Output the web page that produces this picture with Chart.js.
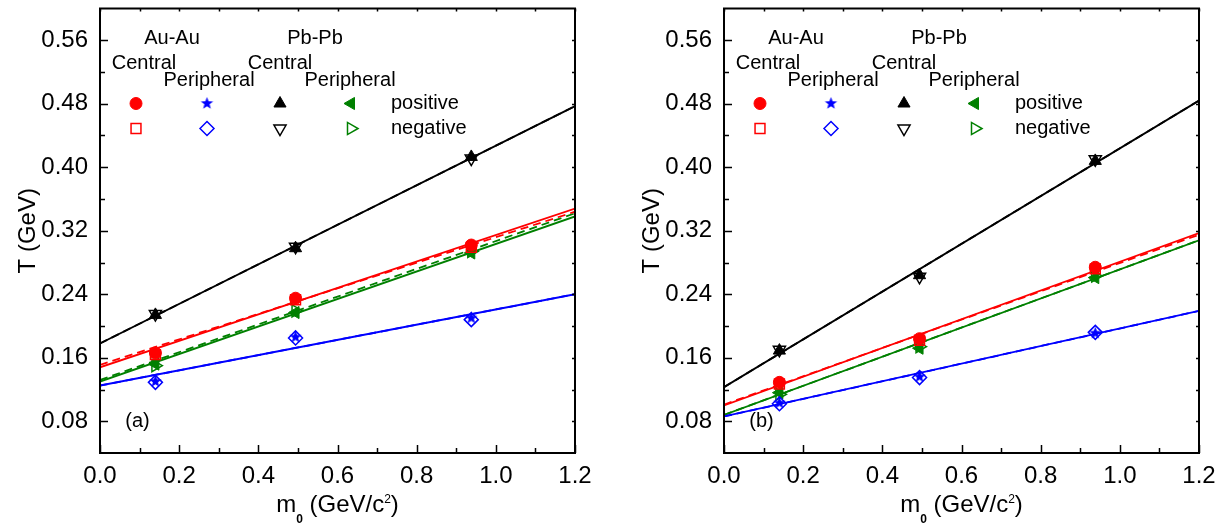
<!DOCTYPE html>
<html>
<head>
<meta charset="utf-8">
<script src="https://cdn.jsdelivr.net/npm/chart.js@4/dist/chart.umd.min.js"></script>
<style>
  html, body { margin: 0; padding: 0; background: #fff; }
  #wrap { position: relative; width: 1223px; height: 525px; }
  #panel-a { position: absolute; left: 0; top: 0; }
  #panel-b { position: absolute; left: 624px; top: 0; }
</style>
</head>
<body>
<div id="wrap">
  <canvas id="panel-a" width="612" height="525"></canvas>
  <canvas id="panel-b" width="599" height="525"></canvas>
</div>
<script>
// rest masses of pi, K, p (GeV/c^2)
const mass = [0.140, 0.494, 0.938];
// fit lines run across the full x range
const fitEnds = [0, 1.2];
const xTickValues = [0, 0.2, 0.4, 0.6, 0.8, 1.0, 1.2];
const yTickValues = [0.08, 0.16, 0.24, 0.32, 0.40, 0.48, 0.56];

// panel (a): T (GeV) per particle
const aAuCentralPos = [0.166, 0.235, 0.302];
const aAuCentralNeg = [0.164, 0.233, 0.299];
const aAuPeriphPos = [0.130, 0.186, 0.210];
const aAuPeriphNeg = [0.129, 0.185, 0.208];
const aPbCentralPos = [0.214, 0.298, 0.413];
const aPbCentralNeg = [0.215, 0.300, 0.411];
const aPbPeriphPos = [0.152, 0.217, 0.292];
const aPbPeriphNeg = [0.150, 0.219, 0.294];
// panel (a): fitted lines, T at m0 = 0 and m0 = 1.2
const aFitAuCentralPos = [0.148, 0.348];
const aFitAuCentralNeg = [0.151, 0.344];
const aFitAuPeriphPos = [0.125, 0.240];
const aFitAuPeriphNeg = [0.125, 0.240];
const aFitPbCentralPos = [0.178, 0.477];
const aFitPbCentralNeg = [0.178, 0.477];
const aFitPbPeriphPos = [0.130, 0.338];
const aFitPbPeriphNeg = [0.132, 0.342];

// panel (b)
const bAuCentralPos = [0.129, 0.184, 0.274];
const bAuCentralNeg = [0.127, 0.182, 0.272];
const bAuPeriphPos = [0.103, 0.136, 0.191];
const bAuPeriphNeg = [0.102, 0.135, 0.192];
const bPbCentralPos = [0.169, 0.264, 0.408];
const bPbCentralNeg = [0.170, 0.262, 0.410];
const bPbPeriphPos = [0.116, 0.172, 0.261];
const bPbPeriphNeg = [0.114, 0.174, 0.263];
const bFitAuCentralPos = [0.100, 0.317];
const bFitAuCentralNeg = [0.101, 0.315];
const bFitAuPeriphPos = [0.086, 0.219];
const bFitAuPeriphNeg = [0.086, 0.219];
const bFitPbCentralPos = [0.123, 0.484];
const bFitPbCentralNeg = [0.123, 0.484];
const bFitPbPeriphPos = [0.088, 0.308];
const bFitPbPeriphNeg = [0.088, 0.308];

const FONT = "'Liberation Sans', Arial, Helvetica, sans-serif";
const RED = '#ff0000', BLUE = '#0000ff', BLACK = '#000000', GREEN = '#008000';
const NONE = 'rgba(0,0,0,0)';

function starImage(color, r) {
  const c = document.createElement('canvas');
  const s = Math.ceil(2 * r + 2);
  c.width = c.height = s;
  const g = c.getContext('2d');
  g.fillStyle = color;
  g.beginPath();
  for (let i = 0; i < 10; i++) {
    const rr = i % 2 ? r * 0.42 : r;
    const a = -Math.PI / 2 + i * Math.PI / 5;
    g.lineTo(s / 2 + rr * Math.cos(a), s / 2 + rr * Math.sin(a));
  }
  g.closePath();
  g.fill();
  return c;
}

const marks = {
  auCentralPos: { color: RED, fill: RED, pointStyle: 'circle', rotation: 0, radius: 6, borderWidth: 1 },
  auCentralNeg: { color: RED, fill: NONE, pointStyle: 'rect', rotation: 0, radius: 7, borderWidth: 1.5 },
  auPeriphPos: { color: BLUE, fill: BLUE, pointStyle: starImage(BLUE, 6.5), rotation: 0, radius: 7, borderWidth: 1 },
  auPeriphNeg: { color: BLUE, fill: NONE, pointStyle: 'rectRot', rotation: 0, radius: 7, borderWidth: 1.5 },
  pbCentralPos: { color: BLACK, fill: BLACK, pointStyle: 'triangle', rotation: 0, radius: 7, borderWidth: 1 },
  pbCentralNeg: { color: BLACK, fill: NONE, pointStyle: 'triangle', rotation: 180, radius: 7, borderWidth: 1.5 },
  pbPeriphPos: { color: GREEN, fill: GREEN, pointStyle: 'triangle', rotation: -90, radius: 7, borderWidth: 1 },
  pbPeriphNeg: { color: GREEN, fill: NONE, pointStyle: 'triangle', rotation: 90, radius: 7, borderWidth: 1.5 }
};

function pointSet(label, values, m) {
  return {
    label, order: 1, showLine: false,
    data: mass.map((x, i) => ({ x, y: values[i] })),
    pointStyle: m.pointStyle, pointRotation: m.rotation, pointRadius: m.radius,
    pointBorderWidth: m.borderWidth, borderColor: m.color, backgroundColor: m.fill
  };
}

function fitSet(label, ends, color, dashed) {
  return {
    label, order: 2, showLine: true, pointRadius: 0,
    data: fitEnds.map((x, i) => ({ x, y: ends[i] })),
    borderColor: color, borderWidth: 1.8, borderDash: dashed ? [8, 5] : [],
    backgroundColor: NONE, fill: false
  };
}

const legendHeads = [
  { text: 'Au-Au', dx: 72, dy: 35 }, { text: 'Pb-Pb', dx: 215, dy: 35 },
  { text: 'Central', dx: 44, dy: 60 }, { text: 'Peripheral', dx: 109, dy: 77 },
  { text: 'Central', dx: 180, dy: 60 }, { text: 'Peripheral', dx: 250, dy: 77 }
];
const legendCols = [36, 107, 180, 251];
const legendRows = [
  { text: 'positive', dy: 95, keys: ['auCentralPos', 'auPeriphPos', 'pbCentralPos', 'pbPeriphPos'] },
  { text: 'negative', dy: 120, keys: ['auCentralNeg', 'auPeriphNeg', 'pbCentralNeg', 'pbPeriphNeg'] }
];

function drawMark(ctx, m, x, y) {
  ctx.save();
  ctx.fillStyle = m.fill;
  ctx.strokeStyle = m.color;
  ctx.lineWidth = m.borderWidth;
  Chart.helpers.drawPoint(ctx, { pointStyle: m.pointStyle, rotation: m.rotation, radius: m.radius, borderWidth: m.borderWidth }, x, y);
  ctx.restore();
}

// box frame, inward ticks, axis titles, legend block and panel tag
const decor = {
  id: 'decor',
  afterDraw(chart, args, opts) {
    const { ctx, chartArea: a, scales: { x: xs, y: ys } } = chart;
    ctx.save();
    ctx.strokeStyle = '#000';
    ctx.lineWidth = 2;
    ctx.strokeRect(a.left, a.top, a.right - a.left, a.bottom - a.top);

    ctx.lineWidth = 1.5;
    ctx.beginPath();
    xTickValues.forEach((v, i) => {
      const px = Math.round(xs.getPixelForValue(v)) + 0.5;
      ctx.moveTo(px, a.bottom); ctx.lineTo(px, a.bottom - 8);
      ctx.moveTo(px, a.top); ctx.lineTo(px, a.top + 3);
      if (i < xTickValues.length - 1) {
        const mx = Math.round(xs.getPixelForValue(v + 0.1)) + 0.5;
        ctx.moveTo(mx, a.bottom); ctx.lineTo(mx, a.bottom - 5);
        ctx.moveTo(mx, a.top); ctx.lineTo(mx, a.top + 3);
      }
    });
    yTickValues.forEach(v => {
      const py = Math.round(ys.getPixelForValue(v)) + 0.5;
      ctx.moveTo(a.left, py); ctx.lineTo(a.left + 8, py);
      ctx.moveTo(a.right, py); ctx.lineTo(a.right - 3, py);
      [v - 0.04, v + 0.04].forEach(m => {
        if (m <= ys.min + 1e-9 || m >= ys.max - 1e-9) return;
        const my = Math.round(ys.getPixelForValue(m)) + 0.5;
        ctx.moveTo(a.left, my); ctx.lineTo(a.left + 5, my);
        ctx.moveTo(a.right, my); ctx.lineTo(a.right - 3, my);
      });
    });
    ctx.stroke();

    ctx.fillStyle = '#000';
    // y title
    ctx.save();
    ctx.font = `24px ${FONT}`;
    ctx.translate(35, (a.top + a.bottom) / 2);
    ctx.rotate(-Math.PI / 2);
    ctx.textAlign = 'center';
    ctx.textBaseline = 'alphabetic';
    ctx.fillText('T (GeV)', 0, 0);
    ctx.restore();

    // x title with subscript and superscript
    const parts = [
      { t: 'm', f: `24px ${FONT}`, dy: 0 },
      { t: '0', f: `bold 12px ${FONT}`, dy: 11 },
      { t: ' (GeV/c', f: `24px ${FONT}`, dy: 0 },
      { t: '2', f: `12px ${FONT}`, dy: -9 },
      { t: ')', f: `24px ${FONT}`, dy: 0 }
    ];
    ctx.textAlign = 'left';
    ctx.textBaseline = 'alphabetic';
    let total = 0;
    parts.forEach(p => { ctx.font = p.f; p.w = ctx.measureText(p.t).width; total += p.w; });
    let tx = (a.left + a.right) / 2 - total / 2;
    parts.forEach(p => { ctx.font = p.f; ctx.fillText(p.t, tx, 512 + p.dy); tx += p.w; });

    // legend block
    ctx.font = `20px ${FONT}`;
    ctx.textAlign = 'center';
    legendHeads.forEach(h => ctx.fillText(h.text, a.left + h.dx, a.top + h.dy));
    legendRows.forEach(row => {
      row.keys.forEach((k, i) => drawMark(ctx, marks[k], a.left + legendCols[i], a.top + row.dy));
      ctx.textAlign = 'left';
      ctx.textBaseline = 'middle';
      ctx.fillText(row.text, a.left + 291, a.top + row.dy);
      ctx.textAlign = 'center';
      ctx.textBaseline = 'alphabetic';
    });

    // panel tag
    ctx.textBaseline = 'middle';
    ctx.fillText(opts.tag, a.left + 37.5, a.top + 413);
    ctx.restore();
  }
};

function makePanel(id, tag, rightPad, pts, fits) {
  const datasets = [
    pointSet('Au-Au central +', pts[0], marks.auCentralPos),
    pointSet('Au-Au central -', pts[1], marks.auCentralNeg),
    pointSet('Au-Au peripheral +', pts[2], marks.auPeriphPos),
    pointSet('Au-Au peripheral -', pts[3], marks.auPeriphNeg),
    pointSet('Pb-Pb central +', pts[4], marks.pbCentralPos),
    pointSet('Pb-Pb central -', pts[5], marks.pbCentralNeg),
    pointSet('Pb-Pb peripheral +', pts[6], marks.pbPeriphPos),
    pointSet('Pb-Pb peripheral -', pts[7], marks.pbPeriphNeg),
    fitSet('fit Au-Au central +', fits[0], RED, false),
    fitSet('fit Au-Au central -', fits[1], RED, true),
    fitSet('fit Au-Au peripheral +', fits[2], BLUE, false),
    fitSet('fit Au-Au peripheral -', fits[3], BLUE, true),
    fitSet('fit Pb-Pb central +', fits[4], BLACK, false),
    fitSet('fit Pb-Pb central -', fits[5], BLACK, true),
    fitSet('fit Pb-Pb peripheral +', fits[6], GREEN, false),
    fitSet('fit Pb-Pb peripheral -', fits[7], GREEN, true)
  ];
  const tickFont = { family: FONT, size: 24 };
  return new Chart(document.getElementById(id), {
    type: 'scatter',
    data: { datasets },
    options: {
      responsive: false, animation: false, devicePixelRatio: 1,
      layout: { padding: { top: 7, right: rightPad, left: 0, bottom: 0 } },
      plugins: { legend: { display: false }, tooltip: { enabled: false }, decor: { tag } },
      scales: {
        x: {
          type: 'linear', min: 0, max: 1.2,
          afterBuildTicks: s => { s.ticks = xTickValues.map(value => ({ value })); },
          afterFit: s => { s.height = 72; s.paddingLeft = 0; s.paddingRight = 0; },
          ticks: { callback: v => Number(v).toFixed(1), font: tickFont, color: '#000', padding: 9, maxRotation: 0, autoSkip: false },
          grid: { display: false, drawTicks: false }, border: { display: false }
        },
        y: {
          type: 'linear', min: 0.04, max: 0.60,
          afterBuildTicks: s => { s.ticks = yTickValues.map(value => ({ value })); },
          afterFit: s => { s.width = 100; s.paddingTop = 0; s.paddingBottom = 0; },
          ticks: { callback: v => Number(v).toFixed(2), font: tickFont, color: '#000', padding: 12, autoSkip: false },
          grid: { display: false, drawTicks: false }, border: { display: false }
        }
      }
    },
    plugins: [decor]
  });
}

makePanel('panel-a', '(a)', 37,
  [aAuCentralPos, aAuCentralNeg, aAuPeriphPos, aAuPeriphNeg, aPbCentralPos, aPbCentralNeg, aPbPeriphPos, aPbPeriphNeg],
  [aFitAuCentralPos, aFitAuCentralNeg, aFitAuPeriphPos, aFitAuPeriphNeg, aFitPbCentralPos, aFitPbCentralNeg, aFitPbPeriphPos, aFitPbPeriphNeg]);
makePanel('panel-b', '(b)', 24,
  [bAuCentralPos, bAuCentralNeg, bAuPeriphPos, bAuPeriphNeg, bPbCentralPos, bPbCentralNeg, bPbPeriphPos, bPbPeriphNeg],
  [bFitAuCentralPos, bFitAuCentralNeg, bFitAuPeriphPos, bFitAuPeriphNeg, bFitPbCentralPos, bFitPbCentralNeg, bFitPbPeriphPos, bFitPbPeriphNeg]);
</script>
</body>
</html>
